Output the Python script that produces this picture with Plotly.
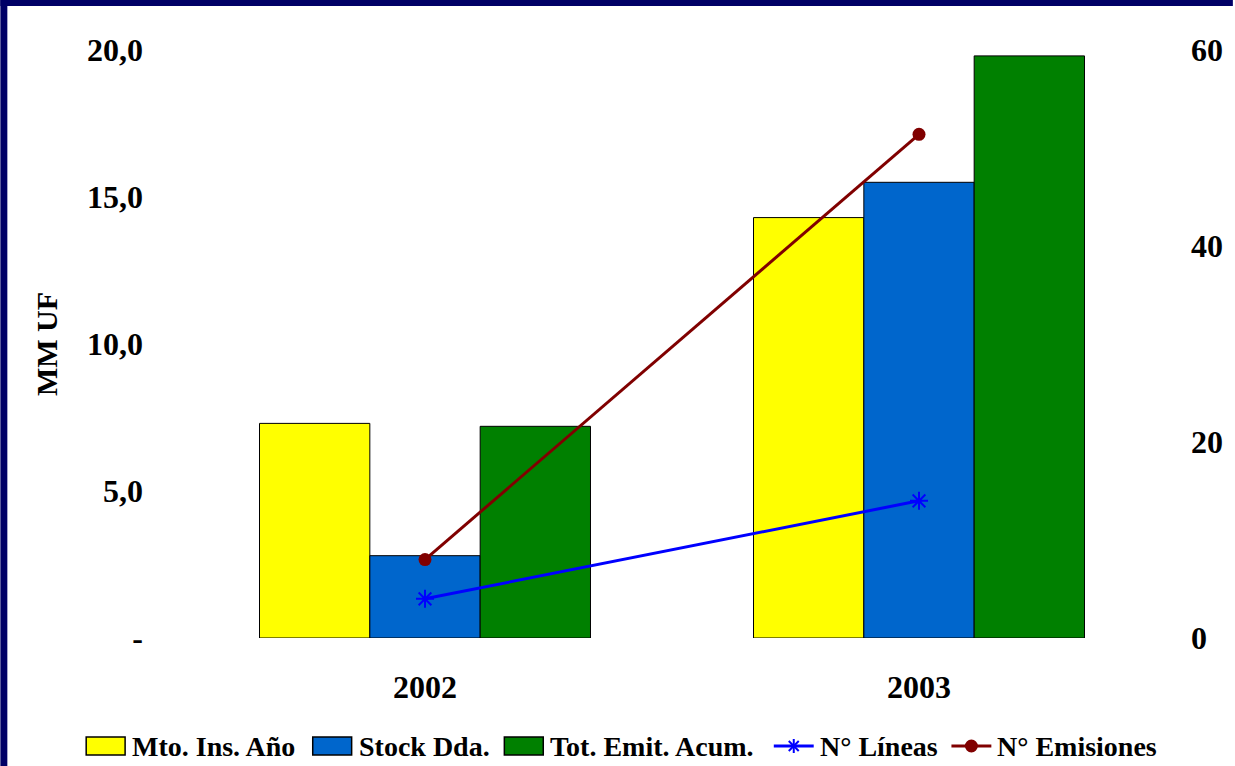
import plotly.graph_objects as go

years = ["2002", "2003"]
mto_ins_anio = [7.3, 14.3]
stock_dda = [2.8, 15.5]
tot_emit_acum = [7.2, 19.8]
n_lineas = [4, 14]
n_emisiones = [8, 51.4]

left_ticks = [0, 5, 10, 15, 20]
left_labels = ["-", "5,0", "10,0", "15,0", "20,0"]
right_ticks = [0, 20, 40, 60]
right_labels = ["0", "20", "40", "60"]

series_names = ["Mto. Ins. Año", "Stock Dda.", "Tot. Emit. Acum.", "N° Líneas", "N° Emisiones"]
series_colors = ["#FFFF00", "#0066CC", "#008000", "#0000FF", "#800000"]

W, H = 1235, 766
ML, MR, MT, MB = 178, 67, 50, 128
PW, PH = W - ML - MR, H - MT - MB

font_family = "Liberation Serif, Times New Roman, serif"
tick_font = dict(family=font_family, size=32, color="black", weight="bold")
title_font = dict(family=font_family, size=30, color="black", weight="bold")
legend_font = dict(family=font_family, size=28, color="black", weight="bold")

fig = go.Figure()
bar_series = [mto_ins_anio, stock_dda, tot_emit_acum]
for i, vals in enumerate(bar_series):
    fig.add_trace(go.Bar(x=years, y=vals, name=series_names[i],
                         marker=dict(color=series_colors[i], line=dict(color="black", width=1))))
fig.add_trace(go.Scatter(x=years, y=n_lineas, name=series_names[3], yaxis="y2",
                         mode="lines+markers",
                         line=dict(color=series_colors[3], width=3),
                         marker=dict(symbol="asterisk-open", size=15,
                                     line=dict(color=series_colors[3], width=2))))
fig.add_trace(go.Scatter(x=years, y=n_emisiones, name=series_names[4], yaxis="y2",
                         mode="lines+markers",
                         line=dict(color=series_colors[4], width=3),
                         marker=dict(symbol="circle", size=13, color=series_colors[4])))


def px_x(p):
    return (p - ML) / PW


def px_y(p):
    return (H - MB - p) / PH


# navy slide border (top and left)
border = "#000066"
fig.add_shape(type="rect", xref="paper", yref="paper",
              x0=px_x(0), x1=px_x(W), y0=px_y(6), y1=px_y(0),
              fillcolor=border, line=dict(width=0), layer="above")
fig.add_shape(type="rect", xref="paper", yref="paper",
              x0=px_x(0), x1=px_x(7), y0=px_y(H), y1=px_y(0),
              fillcolor=border, line=dict(width=0), layer="above")

# custom legend (larger symbols as in the reference)
leg_x0 = [86, 313, 505, 775, 953]
leg_y = 746
sym_w = 39
for i, name in enumerate(series_names):
    x0 = leg_x0[i]
    c = series_colors[i]
    if i < 3:
        fig.add_shape(type="rect", xref="paper", yref="paper",
                      x0=px_x(x0), x1=px_x(x0 + sym_w),
                      y0=px_y(leg_y + 9), y1=px_y(leg_y - 9),
                      fillcolor=c, line=dict(color="black", width=1.5))
    else:
        fig.add_shape(type="line", xref="paper", yref="paper",
                      x0=px_x(x0), x1=px_x(x0 + sym_w + 1),
                      y0=px_y(leg_y), y1=px_y(leg_y),
                      line=dict(color=c, width=3))
        cx = x0 + (sym_w + 1) / 2
        if i == 3:
            r = 7
            d = 5
            for (dx, dy) in [(0, r), (d, d), (-d, d)]:
                fig.add_shape(type="line", xref="paper", yref="paper",
                              x0=px_x(cx - dx), x1=px_x(cx + dx),
                              y0=px_y(leg_y - dy), y1=px_y(leg_y + dy),
                              line=dict(color=c, width=2))
        else:
            r = 6.5
            fig.add_shape(type="circle", xref="paper", yref="paper",
                          x0=px_x(cx - r), x1=px_x(cx + r),
                          y0=px_y(leg_y + r), y1=px_y(leg_y - r),
                          fillcolor=c, line=dict(color=c, width=0))
    fig.add_annotation(xref="paper", yref="paper", x=px_x(x0 + sym_w + 6), y=px_y(leg_y),
                       xanchor="left", yanchor="middle", text=name, showarrow=False,
                       font=legend_font, borderpad=0)

fig.update_layout(
    width=W, height=H,
    margin=dict(l=ML, r=MR, t=MT, b=MB),
    paper_bgcolor="white", plot_bgcolor="white",
    barmode="group", bargap=0.33, bargroupgap=0,
    font=tick_font,
    showlegend=False,
    xaxis=dict(showgrid=False, showline=False, zeroline=False, ticks="",
               tickfont=tick_font, range=[-0.5, 1.5], ticklabelstandoff=27),
    yaxis=dict(range=[0, 20], tickvals=left_ticks, ticktext=left_labels,
               showgrid=False, showline=False, zeroline=False, ticks="",
               tickfont=tick_font, ticklabelstandoff=34,
               title=dict(text="MM UF", font=title_font, standoff=20)),
    yaxis2=dict(range=[0, 60], tickvals=right_ticks, ticktext=right_labels,
                overlaying="y", side="right", showgrid=False, showline=False,
                zeroline=False, ticks="", tickfont=tick_font, ticklabelstandoff=24),
)

fig.write_html("out.html", config={"displayModeBar": False},
               post_script="document.body.style.margin='0px';document.body.style.overflow='hidden';")
